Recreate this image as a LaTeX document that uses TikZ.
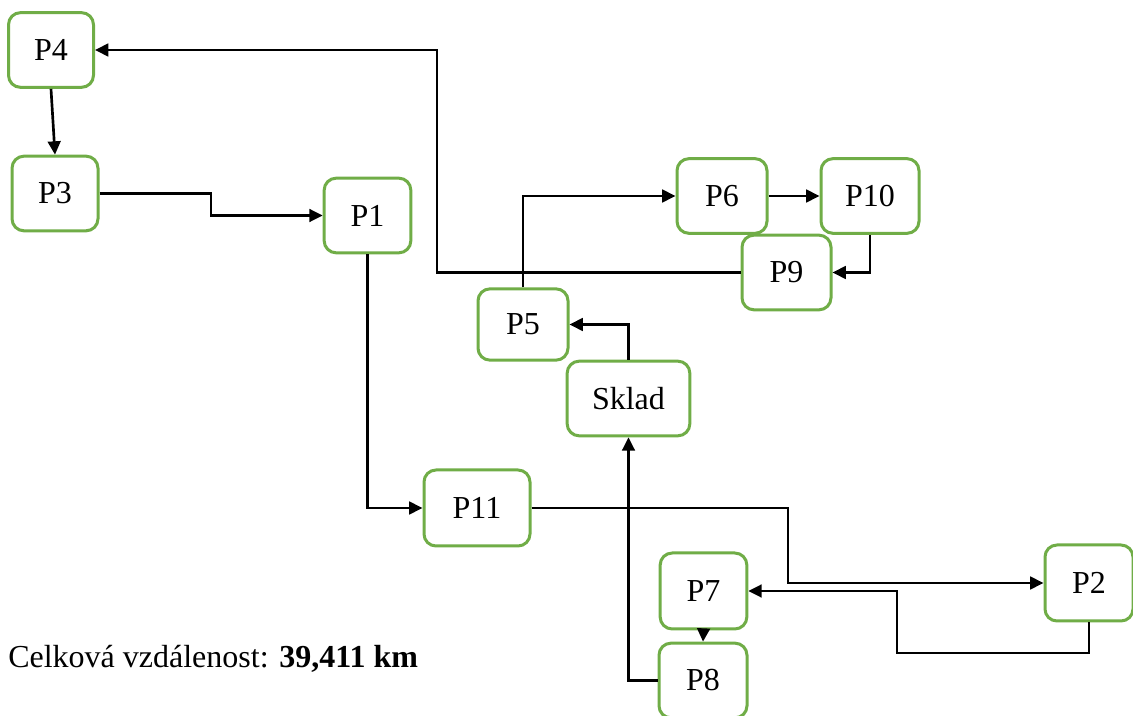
\documentclass[tikz,border=0pt]{standalone}
\usepackage{fontspec}
\setmainfont{Liberation Serif}
\usetikzlibrary{arrows.meta}
\definecolor{boxgreen}{HTML}{70AD47}
\tikzset{
  pbox/.style={draw=boxgreen, line width=2.25pt, rounded corners=9pt, fill=white,
    inner sep=0pt, font=\fontsize{24}{28}\selectfont},
  arr/.style={line width=2pt, -{Triangle[length=10pt,width=9.5pt]}},
}
\begin{document}
\begin{tikzpicture}[x=0.75pt,y=-0.75pt]
\useasboundingbox (0,0) rectangle (1133,716);
\node[pbox, minimum width=63.75pt, minimum height=56pt] (P4) at (51,50) {P4};
\node[pbox, minimum width=64.5pt, minimum height=56pt] (P3) at (55,193.5) {P3};
\node[pbox, minimum width=65pt, minimum height=56pt] (P1) at (367.5,215.5) {P1};
\node[pbox, minimum width=67.5pt, minimum height=56pt] (P6) at (722,196) {P6};
\node[pbox, minimum width=73.5pt, minimum height=56pt] (P10) at (870,196) {P10};
\node[pbox, minimum width=66.75pt, minimum height=56pt] (P9) at (786.5,272.5) {P9};
\node[pbox, minimum width=67.5pt, minimum height=53.5pt] (P5) at (523,324.5) {P5};
\node[pbox, minimum width=92pt, minimum height=56pt] (Sklad) at (628.5,398.5) {Sklad};
\node[pbox, minimum width=79.5pt, minimum height=57pt] (P11) at (477,508) {P11};
\node[pbox, minimum width=65pt, minimum height=57pt] (P7) at (703.5,591) {P7};
\node[pbox, minimum width=66pt, minimum height=56pt] (P8) at (703,680.5) {P8};
\node[pbox, minimum width=66pt, minimum height=57pt] (P2) at (1089,583) {P2};
\node[anchor=base west, inner sep=0pt, font=\fontsize{24}{28}\selectfont] (total) at (8,668)
  {Celková vzdálenost: \textbf{39,411 km}};
% connectors
\draw[arr] (P9.west) -- (437,272.5) |- (P4.east);
\draw[arr] (P4.south) -- (P3.north);
\draw[arr] (P3.east) -- (211,193.5) |- (P1.west);
\draw[arr] (P1.south) |- (P11.west);
\draw[arr] (P11.east) -- (788,508) |- (P2.west);
\draw[arr] (P2.south) |- (897,653) |- (P7.east);
\draw[arr] (P7.south) -- (P8.north);
\draw[arr] (P8.west) -| (Sklad.south);
\draw[arr] (Sklad.north) |- (P5.east);
\draw[arr] (P5.north) |- (P6.west);
\draw[arr] (P6.east) -- (P10.west);
\draw[arr] (P10.south) |- (P9.east);
\end{tikzpicture}
\end{document}
